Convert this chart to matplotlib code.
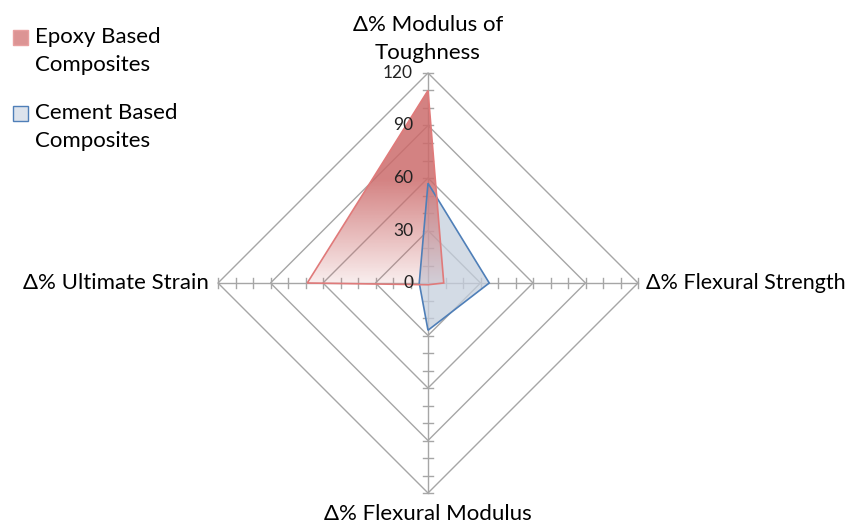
import numpy as np
import matplotlib
matplotlib.use("Agg")
import matplotlib.pyplot as plt
from matplotlib.patches import Polygon, Rectangle

categories = ["Δ% Modulus of\nToughness", "Δ% Flexural Strength", "Δ% Flexural Modulus", "Δ% Ultimate Strain"]
series_names = ["Epoxy Based\nComposites", "Cement Based\nComposites"]
epoxy = [110, 9, 1, 69]
cement = [57, 35, 27, 5]
grid_levels = [30, 60, 90, 120]
tick_labels = ["0", "30", "60", "90", "120"]
rmax = 120

plt.rcParams['font.family'] = ['Lato', 'DejaVu Sans']

W, H = 857, 527
fig = plt.figure(figsize=(W/100, H/100), dpi=100)
ax = fig.add_axes([0, 0, 1, 1])
cx, cy = 428, 283
scale = 210 / rmax  # px per unit
ax.set_xlim(-cx/scale, (W-cx)/scale)
ax.set_ylim(-(H-cy)/scale, cy/scale)
ax.axis('off')

angles = np.deg2rad([90, 0, -90, 180])

def xy(vals):
    v = np.asarray(vals, dtype=float)
    return np.column_stack([v*np.cos(angles), v*np.sin(angles)])

gcol = '#a6a6a6'
for lv in grid_levels:
    pts = xy([lv]*4)
    ax.add_patch(Polygon(pts, closed=True, fill=False, edgecolor=gcol, lw=1.0, zorder=1))
for a in angles:
    ax.plot([0, rmax*np.cos(a)], [0, rmax*np.sin(a)], color=gcol, lw=1.0, zorder=1)
    for t in range(10, rmax+1, 10):
        px, py = t*np.cos(a), t*np.sin(a)
        dx, dy = -np.sin(a)*2.6, np.cos(a)*2.6
        ax.plot([px-dx, px+dx], [py-dy, py+dy], color=gcol, lw=1.0, zorder=1)

# cement
cpts = xy(cement)
ax.add_patch(Polygon(cpts, closed=True, facecolor='#c5cfdd', alpha=0.75, edgecolor='none', zorder=2))
ax.add_patch(Polygon(cpts, closed=True, fill=False, edgecolor='#4f7fb8', lw=1.2, zorder=4))

# epoxy with gradient
epts = xy(epoxy)
epoly = Polygon(epts, closed=True, facecolor='none', edgecolor='none')
ax.add_patch(epoly)
ny = 200
yy = np.linspace(0, 1, ny)
alpha = np.clip(0.12 + 0.75*np.clip(yy*1.8, 0, 1), 0, 0.85)
img = np.zeros((ny, 2, 4))
img[..., 0] = 0.80; img[..., 1] = 0.42; img[..., 2] = 0.42
img[..., 3] = alpha[:, None]
xmin, xmax = epts[:, 0].min(), epts[:, 0].max()
ymax = epts[:, 1].max()
im = ax.imshow(img, extent=[xmin, xmax, 0, ymax], origin='lower', aspect='auto', zorder=3, interpolation='bilinear')
im.set_clip_path(epoly)
ax.add_patch(Polygon(epts, closed=True, fill=False, edgecolor='#e07a7a', lw=1.2, zorder=4))

# tick labels
for lv, lab in zip([0] + grid_levels, tick_labels):
    ax.text(-15/scale, lv, lab, ha='right', va='center', fontsize=12.5, color='#222222', zorder=5)

# category labels
fs = 16
ax.text(0, rmax + 10/scale, categories[0], ha='center', va='bottom', fontsize=fs, linespacing=1.5)
ax.text(rmax + 8/scale, 0, categories[1], ha='left', va='center', fontsize=15.5)
ax.text(0, -rmax - 11/scale, categories[2], ha='center', va='top', fontsize=fs)
ax.text(-rmax - 9/scale, 0, categories[3], ha='right', va='center', fontsize=fs)

# legend (manual, pixel layout)
def px2ax(x, y):
    return x / W, 1 - y / H

leg_faces = ['#dc9494', '#dde3ec']
leg_edges = ['#e8a0a0', '#4f7fb8']
for i, (name, fc, ec) in enumerate(zip(series_names, leg_faces, leg_edges)):
    top = 30 + i * 76
    x0, y0 = px2ax(13, top + 15)
    ax.add_patch(Rectangle((x0, y0), 15 / W, 15 / H, transform=ax.transAxes,
                           facecolor=fc, edgecolor=ec, lw=1.0, zorder=6))
    tx, ty = px2ax(35, top - 3)
    ax.text(tx, ty, name, transform=ax.transAxes, ha='left', va='top', fontsize=fs,
            linespacing=1.5, zorder=6)

fig.savefig('out.png', dpi=100)
